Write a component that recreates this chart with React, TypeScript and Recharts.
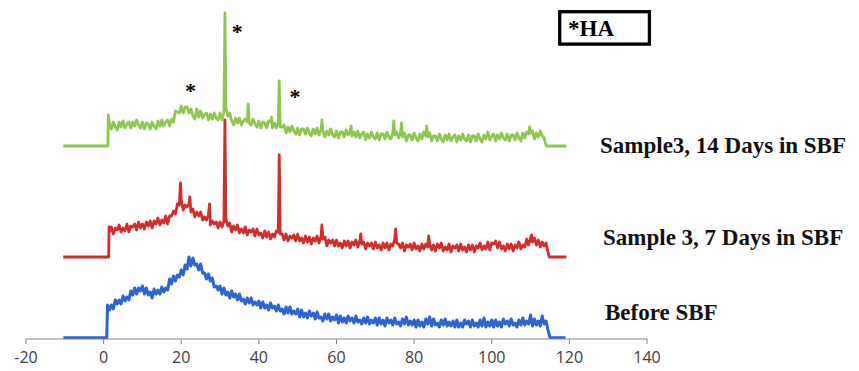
import React from 'react';
import { LineChart, Line, XAxis, YAxis, ReferenceDot } from 'recharts';

// 2-theta ticks shown on the axis
const xTicks = [-20, 0, 20, 40, 60, 80, 100, 120, 140];

// sampled every 0.5 deg from the given start; flat instrument baseline before/after
const SAMPLE_STEP = 0.5;

// ---- Before SBF (blue) ----
const beforeLead = [[-10.4, 1.3], [0.8, 1.3]];
const beforeStart = 1.0;
const beforeValues = [
  34, 29, 34, 30, 39, 35, 39, 35, 43, 38, 42, 39, 48, 44, 51, 45, 51, 48, 53, 45,
  51, 44, 47, 41, 50, 45, 49, 45, 52, 47, 51, 49, 60, 55, 63, 58, 64, 62, 69, 64,
  74, 70, 82, 73, 81, 74, 75, 69, 75, 66, 66, 60, 65, 58, 61, 52, 53, 49, 53, 45,
  51, 44, 47, 41, 48, 42, 45, 39, 45, 38, 40, 35, 41, 36, 41, 34, 37, 34, 38, 31,
  37, 31, 34, 29, 36, 31, 33, 28, 34, 28, 30, 25, 32, 26, 32, 25, 28, 25, 30, 22,
  29, 22, 26, 21, 28, 23, 26, 20, 27, 21, 22, 18, 25, 20, 25, 18, 22, 19, 24, 16,
  23, 17, 21, 16, 23, 18, 21, 16, 23, 17, 19, 15, 21, 16, 22, 15, 19, 16, 21, 14,
  21, 15, 19, 13, 21, 16, 19, 14, 21, 15, 17, 13, 20, 15, 22, 14, 18, 14, 19, 12,
  19, 13, 17, 12, 20, 15, 22, 13, 20, 14, 16, 12, 19, 14, 20, 13, 17, 13, 18, 12,
  19, 12, 16, 12, 19, 15, 18, 12, 19, 13, 16, 12, 19, 13, 21, 12, 17, 13, 19, 12,
  19, 13, 17, 12, 20, 15, 18, 13, 20, 14, 16, 12, 19, 14, 21, 14, 18, 15, 24, 13,
  20, 14, 18, 13, 23, 15, 18,
];
const beforePeaks: number[][] = [];
const beforeTail = [[114.5, 9], [115.0, 1.3], [119.0, 1.3]];

// ---- Sample 3, 7 days in SBF (red) ----
const day7Lead = [[-10.4, 82], [1.3, 82], [1.4, 112]];
const day7Start = 1.5;
const day7Values = [
  107, 112, 105, 111, 109, 114, 107, 111, 108, 115, 107, 113, 112, 115, 109, 117, 111, 115, 110, 117,
  113, 118, 111, 118, 115, 121, 114, 119, 116, 123, 115, 123, 123, 128, 125, 135, 134, 139, 129, 134,
  132, 135, 127, 130, 122, 127, 123, 127, 119, 122, 119, 124, 114, 118, 115, 117, 111, 117, 112, 118,
  120, 113, 116, 107, 113, 109, 114, 106, 110, 106, 112, 104, 109, 107, 110, 103, 110, 104, 106, 101,
  108, 102, 107, 100, 105, 102, 108, 107, 105, 105, 99, 105, 98, 103, 101, 104, 98, 105, 98, 101,
  96, 103, 97, 102, 95, 101, 98, 103, 96, 102, 100, 102, 93, 99, 96, 99, 93, 99, 93, 96,
  91, 98, 93, 98, 91, 97, 94, 99, 92, 98, 95, 97, 90, 96, 93, 96, 90, 97, 91, 94,
  89, 96, 91, 96, 89, 95, 93, 100, 96, 95, 91, 96, 88, 94, 92, 95, 89, 96, 90, 93,
  88, 95, 90, 95, 92, 95, 89, 94, 88, 95, 91, 96, 88, 92, 89, 95, 87, 93, 91, 94,
  88, 95, 89, 92, 87, 94, 89, 94, 87, 93, 91, 96, 89, 93, 90, 97, 89, 96, 95, 98,
  91, 97, 90, 93, 88, 95, 90, 95, 88, 94, 91, 97, 90, 94, 92, 100, 94, 101, 97, 101,
  94, 99, 92, 97, 93, 96,
];
const day7Peaks = [
  [19.8, 156], [22.2, 142], [27.3, 135], [31.25, 219], [45.25, 184],
  [56.25, 114], [66.25, 105], [75.25, 110], [83.75, 103], [110.25, 104],
];
const day7Tail = [[114.4, 88], [114.8, 82], [119.2, 82]];

// ---- Sample 3, 14 days in SBF (green) ----
const day14Lead = [[-10.4, 193], [1.1, 193], [1.2, 224]];
const day14Start = 1.5;
const day14Values = [
  215, 210, 217, 212, 209, 217, 212, 218, 211, 215, 217, 211, 217, 213, 219, 214, 211, 217, 210, 216,
  215, 210, 217, 213, 210, 218, 213, 219, 213, 217, 219, 213, 220, 217, 228, 227, 226, 233, 226, 232,
  232, 226, 230, 223, 220, 230, 222, 228, 221, 224, 226, 219, 225, 220, 226, 221, 219, 226, 219, 227,
  232, 223, 226, 218, 214, 221, 216, 221, 214, 218, 220, 217, 216, 214, 220, 215, 212, 218, 211, 217,
  216, 211, 218, 217, 211, 216, 211, 217, 212, 212, 214, 206, 212, 207, 213, 208, 205, 211, 204, 210,
  210, 205, 211, 206, 203, 210, 205, 211, 204, 209, 208, 202, 208, 204, 210, 204, 202, 208, 201, 207,
  207, 202, 209, 204, 207, 203, 207, 202, 208, 201, 205, 207, 199, 205, 201, 207, 202, 200, 206, 199,
  205, 205, 200, 207, 202, 200, 206, 204, 207, 201, 206, 202, 206, 198, 204, 204, 199, 206, 201, 198,
  205, 200, 207, 203, 202, 206, 198, 203, 203, 198, 205, 200, 197, 204, 199, 205, 198, 202, 204, 197,
  203, 199, 205, 200, 198, 204, 197, 203, 203, 198, 205, 200, 197, 204, 200, 207, 199, 203, 205, 198,
  204, 200, 206, 201, 199, 205, 198, 204, 204, 199, 206, 201, 198, 206, 201, 207, 205, 206, 208, 200,
  206, 202, 208, 203, 201,
];
const day14Peaks = [
  [31.25, 326], [37.25, 235], [43.25, 222], [45.25, 258], [56.25, 219],
  [63.75, 213], [74.75, 218], [76.75, 216], [83.25, 213], [109.75, 212],
];
const day14Tail = [[113.8, 196], [114.1, 193], [119.2, 193]];

// HA reflections marked with an asterisk: [2-theta, height]
const haMarks = [[22.4, 250.7], [34.4, 309.7], [49.3, 245]];

const seriesLabels = ['Sample3, 14 Days in SBF', 'Sample 3, 7 Days in SBF', 'Before SBF'];

const buildSeries = (lead: number[][], start: number, values: number[], peaks: number[][], tail: number[][]) =>
  [...lead, ...values.map((y, i) => [start + i * SAMPLE_STEP, y]), ...peaks, ...tail]
    .sort((a, b) => a[0] - b[0])
    .map(([x, y]) => ({ x, y }));

const beforeData = buildSeries(beforeLead, beforeStart, beforeValues, beforePeaks, beforeTail);
const day7Data = buildSeries(day7Lead, day7Start, day7Values, day7Peaks, day7Tail);
const day14Data = buildSeries(day14Lead, day14Start, day14Values, day14Peaks, day14Tail);

const SERIF = "'Liberation Serif', 'Times New Roman', serif";

const Asterisk = (props: any) => (
  <text x={props.cx} y={props.cy} dy="0.45em" textAnchor="middle" fontFamily={SERIF} fontWeight="bold" fontSize={22} fill="#000">
    *
  </text>
);

export default function App() {
  return (
    <div style={{ position: 'absolute', left: 0, top: 0, width: 859, height: 371, background: '#fff' }}>
      <LineChart width={859} height={371} margin={{ top: 9, right: 212, bottom: 0, left: 26 }}>
        <XAxis
          dataKey="x"
          type="number"
          domain={[-20, 140]}
          ticks={xTicks}
          interval={0}
          height={32}
          stroke="#868686"
          tickSize={5}
          tickMargin={8}
          tick={{ fill: '#404040', fontSize: 16, fontFamily: "'Open Sans', sans-serif" }}
          allowDataOverflow
        />
        <YAxis type="number" domain={[0, 330]} hide allowDataOverflow />
        <Line data={beforeData} dataKey="y" name={seriesLabels[2]} stroke="#2d63d2" strokeWidth={3} strokeLinejoin="round" dot={false} isAnimationActive={false} />
        <Line data={day7Data} dataKey="y" name={seriesLabels[1]} stroke="#d42b2b" strokeWidth={2.8} strokeLinejoin="round" dot={false} isAnimationActive={false} />
        <Line data={day14Data} dataKey="y" name={seriesLabels[0]} stroke="#8ec64e" strokeWidth={2.8} strokeLinejoin="round" dot={false} isAnimationActive={false} />
        {haMarks.map(([x, y]) => (
          <ReferenceDot key={x} x={x} y={y} r={0} ifOverflow="visible" shape={Asterisk} />
        ))}
      </LineChart>
      <svg width={859} height={371} style={{ position: 'absolute', left: 0, top: 0, pointerEvents: 'none' }}>
        <rect x={559.7} y={11.7} width={89.7} height={32.4} fill="none" stroke="#000" strokeWidth={3.3} />
        <text x={568} y={36} fontFamily={SERIF} fontWeight="bold" fontSize={23} fill="#000">*HA</text>
        <g fontFamily={SERIF} fontWeight="bold" fontSize={23} fill="#111">
          <text x={600} y={153}>{seriesLabels[0]}</text>
          <text x={603} y={245}>{seriesLabels[1]}</text>
          <text x={605} y={320}>{seriesLabels[2]}</text>
        </g>
      </svg>
    </div>
  );
}
